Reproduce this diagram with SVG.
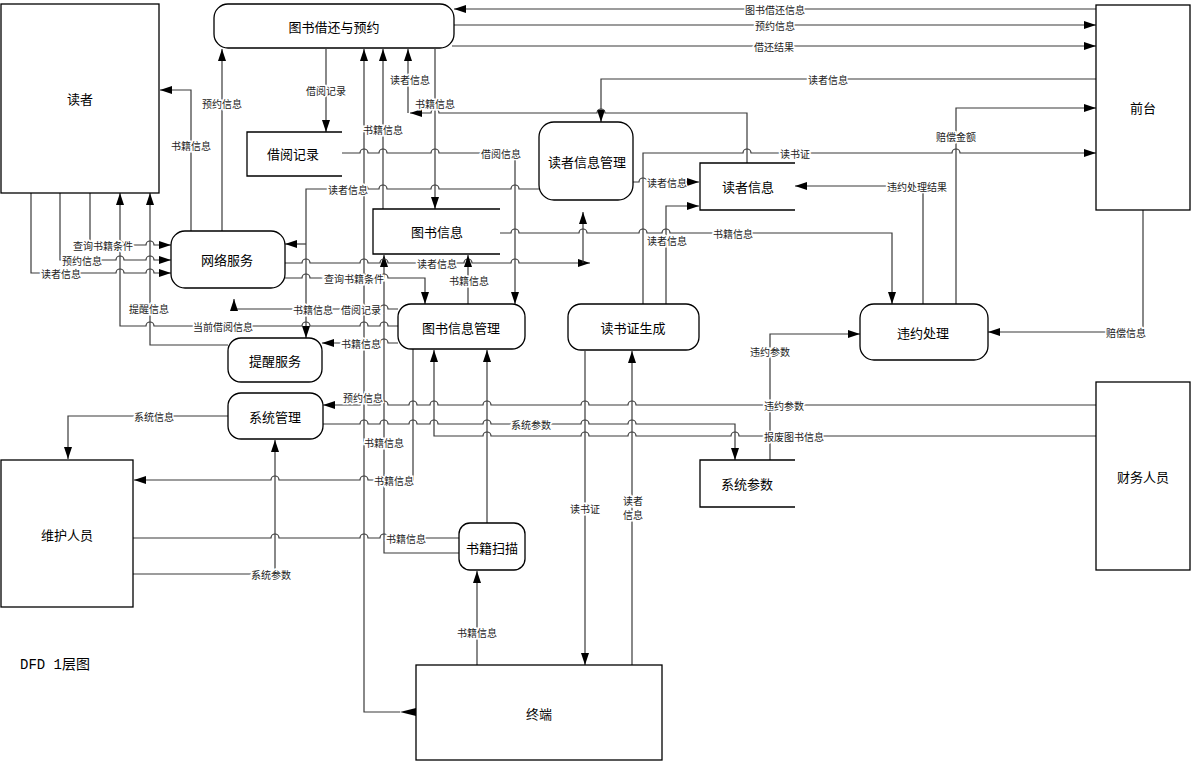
<svg xmlns="http://www.w3.org/2000/svg" width="1192" height="761" viewBox="0 0 1192 761">
<style>
.b{fill:#fff;stroke:#000;stroke-width:1.3}
.s{fill:none;stroke:#000;stroke-width:1.3}
.c path{fill:none;stroke:#3a3a3a;stroke-width:1.2}
.n{font-family:"Noto Sans CJK SC","Noto Sans",sans-serif;font-size:13px;fill:#000;text-anchor:middle;dominant-baseline:central}
.l{font-family:"Noto Sans CJK SC","Noto Sans",sans-serif;font-size:10px;fill:#222;text-anchor:middle;dominant-baseline:central;stroke:#fff;stroke-width:3;paint-order:stroke}
.t{font-family:"Liberation Mono","Noto Sans CJK SC",monospace;font-size:14px;fill:#000;dominant-baseline:central}
</style>
<defs>
<marker id="a" markerWidth="12" markerHeight="8" refX="12" refY="4" orient="auto" markerUnits="userSpaceOnUse"><path d="M0,0 L12,4 L0,8 z" fill="#000"/></marker>
</defs>
<rect width="1192" height="761" fill="#fff"/>

<g class="c" id="connectors">
<path d="M1096,9 H454" marker-end="url(#a)"/>
<path d="M454,25 H1096" marker-end="url(#a)"/>
<path d="M452,46 H1096" marker-end="url(#a)"/>
<path d="M1096,79 H601 V122" marker-end="url(#a)"/>
<path d="M747,163 V113 H605 a4,4 0 0 0 -8,0 H439 a4,4 0 0 0 -8,0 H410" marker-end="url(#a)"/>
<path d="M408,113 V49" marker-end="url(#a)"/>
<path d="M326,49 V132" marker-end="url(#a)"/>
<path d="M222,231 V49" marker-end="url(#a)"/>
<path d="M191,231 V90 H160" marker-end="url(#a)"/>
<path d="M400,712 H364 V49" marker-end="url(#a)"/>
<path d="M383,209 V49" marker-end="url(#a)"/>
<path d="M459,553 H384 V255" marker-end="url(#a)"/>
<path d="M435,49 V209" marker-end="url(#a)"/>
<path d="M342,153 H360 a4,4 0 0 1 8,0 H379 a4,4 0 0 1 8,0 H431 a4,4 0 0 1 8,0 H515 V304" marker-end="url(#a)"/>
<path d="M539,189 H519 a4,4 0 0 0 -8,0 H439 a4,4 0 0 0 -8,0 H387 a4,4 0 0 0 -8,0 H368 a4,4 0 0 0 -8,0 H306 V338" marker-end="url(#a)"/>
<path d="M306,244 H285" marker-end="url(#a)"/>
<path d="M90,193 V245 H116 a4,4 0 0 1 8,0 H146 a4,4 0 0 1 8,0 H171" marker-end="url(#a)"/>
<path d="M60,193 V260 H116 a4,4 0 0 1 8,0 H146 a4,4 0 0 1 8,0 H171" marker-end="url(#a)"/>
<path d="M31,193 V273 H116 a4,4 0 0 1 8,0 H146 a4,4 0 0 1 8,0 H171" marker-end="url(#a)"/>
<path d="M285,263 H302 a4,4 0 0 1 8,0 H360 a4,4 0 0 1 8,0 H380 a4,4 0 0 1 8,0 H464 a4,4 0 0 1 8,0 H511 a4,4 0 0 1 8,0 H590" marker-end="url(#a)"/>
<path d="M583,263 V212" marker-end="url(#a)"/>
<path d="M285,278 H302 a4,4 0 0 1 8,0 H360 a4,4 0 0 1 8,0 H380 a4,4 0 0 1 8,0 H425 V304" marker-end="url(#a)"/>
<path d="M398,309 H388 a4,4 0 0 0 -8,0 H368 a4,4 0 0 0 -8,0 H310 a4,4 0 0 0 -8,0 H234 V299" marker-end="url(#a)"/>
<path d="M398,326 H388 a4,4 0 0 0 -8,0 H368 a4,4 0 0 0 -8,0 H310 a4,4 0 0 0 -8,0 H154 a4,4 0 0 0 -8,0 H120 V193" marker-end="url(#a)"/>
<path d="M398,343 H388 a4,4 0 0 0 -8,0 H368 a4,4 0 0 0 -8,0 H322" marker-end="url(#a)"/>
<path d="M228,345 H150 V193" marker-end="url(#a)"/>
<path d="M468,304 V255" marker-end="url(#a)"/>
<path d="M1096,405 H636 a4,4 0 0 0 -8,0 H589 a4,4 0 0 0 -8,0 H491 a4,4 0 0 0 -8,0 H438 a4,4 0 0 0 -8,0 H417 a4,4 0 0 0 -8,0 H388 a4,4 0 0 0 -8,0 H368 a4,4 0 0 0 -8,0 H323" marker-end="url(#a)"/>
<path d="M323,424 H360 a4,4 0 0 1 8,0 H380 a4,4 0 0 1 8,0 H409 a4,4 0 0 1 8,0 H430 a4,4 0 0 1 8,0 H483 a4,4 0 0 1 8,0 H581 a4,4 0 0 1 8,0 H628 a4,4 0 0 1 8,0 H735 V460" marker-end="url(#a)"/>
<path d="M1096,436 H774 a4,4 0 0 0 -8,0 H739 a4,4 0 0 0 -8,0 H636 a4,4 0 0 0 -8,0 H589 a4,4 0 0 0 -8,0 H491 a4,4 0 0 0 -8,0 H434 V350" marker-end="url(#a)"/>
<path d="M228,416 H68 V459" marker-end="url(#a)"/>
<path d="M133,574 H275 V440" marker-end="url(#a)"/>
<path d="M413,349 V480 H388 a4,4 0 0 0 -8,0 H368 a4,4 0 0 0 -8,0 H279 a4,4 0 0 0 -8,0 H134" marker-end="url(#a)"/>
<path d="M133,538 H271 a4,4 0 0 1 8,0 H360 a4,4 0 0 1 8,0 H380 a4,4 0 0 1 8,0 H459"/>
<path d="M487,523 V350" marker-end="url(#a)"/>
<path d="M477,665 V571" marker-end="url(#a)"/>
<path d="M585,351 V665" marker-end="url(#a)"/>
<path d="M632,665 V351" marker-end="url(#a)"/>
<path d="M643,304 V153 H743 a4,4 0 0 1 8,0 H952 a4,4 0 0 1 8,0 H1096" marker-end="url(#a)"/>
<path d="M666,304 V206 H699" marker-end="url(#a)"/>
<path d="M633,182 H639 a4,4 0 0 1 8,0 H699" marker-end="url(#a)"/>
<path d="M500,233 H511 a4,4 0 0 1 8,0 H579 a4,4 0 0 1 8,0 H639 a4,4 0 0 1 8,0 H662 a4,4 0 0 1 8,0 H892 V304" marker-end="url(#a)"/>
<path d="M923,304 V186 H795" marker-end="url(#a)"/>
<path d="M956,304 V108 H1096" marker-end="url(#a)"/>
<path d="M1143,210 V332 H988" marker-end="url(#a)"/>
<path d="M770,460 V334 H860" marker-end="url(#a)"/>
<polygon points="400,712 416,708 416,716" fill="#000"/>

<text class="l" x="775" y="9">图书借还信息</text>
<text class="l" x="775" y="25">预约信息</text>
<text class="l" x="774" y="46">借还结果</text>
<text class="l" x="828" y="79">读者信息</text>
<text class="l" x="956" y="136">赔偿金额</text>
<text class="l" x="795" y="153">读书证</text>
<text class="l" x="917" y="186">违约处理结果</text>
<text class="l" x="667" y="182">读者信息</text>
<text class="l" x="435" y="103">书籍信息</text>
<text class="l" x="410" y="79">读者信息</text>
<text class="l" x="326" y="90">借阅记录</text>
<text class="l" x="383" y="129">书籍信息</text>
<text class="l" x="501" y="153">借阅信息</text>
<text class="l" x="348" y="189">读者信息</text>
<text class="l" x="222" y="103">预约信息</text>
<text class="l" x="191" y="145">书籍信息</text>
<text class="l" x="103" y="245">查询书籍条件</text>
<text class="l" x="82" y="260">预约信息</text>
<text class="l" x="61" y="273">读者信息</text>
<text class="l" x="354" y="278">查询书籍条件</text>
<text class="l" x="149" y="308">提醒信息</text>
<text class="l" x="223" y="326">当前借阅信息</text>
<text class="l" x="313" y="309">书籍信息</text>
<text class="l" x="361" y="309">借阅记录</text>
<text class="l" x="361" y="343">书籍信息</text>
<text class="l" x="437" y="263">读者信息</text>
<text class="l" x="469" y="280">书籍信息</text>
<text class="l" x="667" y="240">读者信息</text>
<text class="l" x="733" y="233">书籍信息</text>
<text class="l" x="770" y="351">违约参数</text>
<text class="l" x="1126" y="332">赔偿信息</text>
<text class="l" x="363" y="397">预约信息</text>
<text class="l" x="784" y="405">违约参数</text>
<text class="l" x="531" y="424">系统参数</text>
<text class="l" x="794" y="436">报废图书信息</text>
<text class="l" x="154" y="416">系统信息</text>
<text class="l" x="384" y="442">书籍信息</text>
<text class="l" x="394" y="480">书籍信息</text>
<text class="l" x="406" y="538">书籍信息</text>
<text class="l" x="271" y="574">系统参数</text>
<text class="l" x="585" y="508">读书证</text>
<text class="l" x="633" y="500">读者</text>
<text class="l" x="633" y="514">信息</text>
<text class="l" x="477" y="632">书籍信息</text>
</g>

<g id="reader"><rect class="b" x="1" y="4" width="158" height="189"/><text class="n" x="80" y="98">读者</text></g>
<g id="borrow"><rect class="b" x="214" y="4" width="240" height="44" rx="14"/><text class="n" x="334" y="26">图书借还与预约</text></g>
<g id="front"><rect class="b" x="1096" y="5" width="94" height="205"/><text class="n" x="1143" y="107">前台</text></g>
<g id="store-borrow"><rect x="247" y="132" width="95" height="44" fill="#fff"/><path class="s" d="M342,132 H247 V176 H342"/><text class="n" x="293" y="153">借阅记录</text></g>
<g id="reader-mgmt"><rect class="b" x="539" y="122" width="94" height="78" rx="15"/><text class="n" x="587" y="161">读者信息管理</text></g>
<g id="store-reader"><path class="s" d="M795,163 H700 V210 H795"/><text class="n" x="748" y="186">读者信息</text></g>
<g id="store-book"><path class="s" d="M500,209 H373 V254 H500"/><text class="n" x="437" y="231">图书信息</text></g>
<g id="net"><rect class="b" x="171" y="231" width="114" height="57" rx="14"/><text class="n" x="227" y="259">网络服务</text></g>
<g id="book-mgmt"><rect class="b" x="398" y="304" width="127" height="45" rx="13"/><text class="n" x="461" y="327">图书信息管理</text></g>
<g id="card"><rect class="b" x="568" y="304" width="131" height="46" rx="13"/><text class="n" x="633" y="327">读书证生成</text></g>
<g id="violation"><rect class="b" x="860" y="304" width="128" height="56" rx="14"/><text class="n" x="923" y="332">违约处理</text></g>
<g id="remind"><rect class="b" x="228" y="338" width="94" height="44" rx="13"/><text class="n" x="275" y="360">提醒服务</text></g>
<g id="sys"><rect class="b" x="228" y="393" width="95" height="46" rx="13"/><text class="n" x="275" y="416">系统管理</text></g>
<g id="maint"><rect class="b" x="1" y="460" width="132" height="147"/><text class="n" x="67" y="534">维护人员</text></g>
<g id="store-param"><path class="s" d="M795,460 H700 V507 H795"/><text class="n" x="747" y="483">系统参数</text></g>
<g id="scan"><rect class="b" x="459" y="523" width="66" height="47" rx="11"/><text class="n" x="492" y="547">书籍扫描</text></g>
<g id="terminal"><rect class="b" x="416" y="665" width="246" height="95"/><text class="n" x="539" y="713">终端</text></g>
<g id="finance"><rect class="b" x="1096" y="382" width="94" height="188"/><text class="n" x="1143" y="476">财务人员</text></g>
<text class="t" x="20" y="665">DFD 1层图</text>
</svg>
